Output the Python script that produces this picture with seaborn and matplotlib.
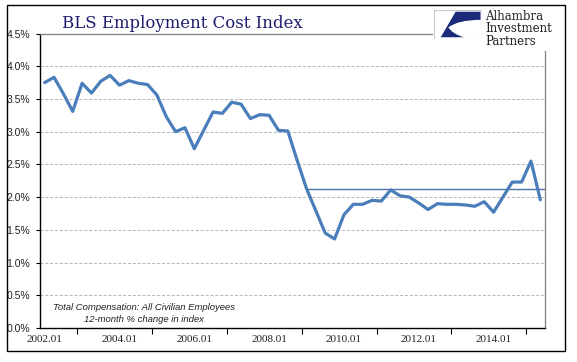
import numpy as np
import pandas as pd
import matplotlib
matplotlib.use("Agg")
import matplotlib.pyplot as plt
from matplotlib.patches import Rectangle, PathPatch
from matplotlib.path import Path
import seaborn as sns

# quarterly 12-month % change, 2002.01 .. 2015.02
eci = [3.75, 3.83, 3.58, 3.31, 3.74, 3.59, 3.77, 3.86, 3.71, 3.78,
       3.74, 3.72, 3.56, 3.23, 3.00, 3.06, 2.74, 3.02, 3.30, 3.28,
       3.45, 3.42, 3.20, 3.26, 3.25, 3.02, 3.01, 2.56, 2.13, 1.79,
       1.45, 1.36, 1.73, 1.89, 1.89, 1.95, 1.94, 2.11, 2.02, 2.00,
       1.91, 1.81, 1.90, 1.89, 1.89, 1.88, 1.86, 1.93, 1.77, 2.00,
       2.23, 2.23, 2.55, 1.96]
years = list(range(2002, 2016))
periods = [f"{y}.0{q}" for y in years for q in range(1, 5)][:len(eci)]
ref_level = 2.13
ref_start = "2009.01"

y_ticks = [0, 0.5, 1.0, 1.5, 2.0, 2.5, 3.0, 3.5, 4.0, 4.5]
x_labels = ["2002.01", "2004.01", "2006.01", "2008.01", "2010.01", "2012.01", "2014.01"]

df = pd.DataFrame({"period": periods, "eci": eci})
df["pos"] = np.arange(len(df))

sns.set_style("white")
plt.rcParams["font.family"] = ["DejaVu Sans"]

fig = plt.figure(figsize=(5.77, 3.62), dpi=100)
ax = fig.add_axes([40 / 577, 1 - 328 / 362, 505 / 577, 294.5 / 362])

# gridlines
for v in y_ticks[1:-1]:
    ax.axhline(v, color="#b4b4b4", lw=0.7, ls=(0, (3, 2)), zorder=1)

sns.lineplot(data=df, x="pos", y="eci", ax=ax, color="#4a7ebb", lw=2.3, zorder=3)

ref_pos = periods.index(ref_start)
ax.plot([ref_pos, len(eci) - 0.5], [ref_level, ref_level], color="#4e72a8", lw=1.0, zorder=2)

ax.set_xlim(-0.5, len(eci) - 0.5)
ax.set_ylim(0, 4.5)
ax.set_xlabel("")
ax.set_ylabel("")

ax.set_yticks(y_ticks)
ax.set_yticklabels([f"{v:.1f}%" for v in y_ticks], fontfamily="Liberation Sans", fontsize=7.5, color="#222222")
ax.tick_params(axis="y", direction="out", length=3, width=0.8, color="black", pad=4, left=True)

ax.set_xticks([periods.index(l) for l in x_labels])
ax.set_xticklabels(x_labels, fontfamily="Liberation Serif", fontsize=8, color="#222222")
ax.set_xticks([periods.index(l) + 3.5 for l in x_labels], minor=True)
ax.tick_params(axis="x", which="major", length=0, pad=5)
ax.tick_params(axis="x", which="minor", direction="out", length=4, width=0.8, color="black", bottom=True)

for s in ["left", "bottom"]:
    ax.spines[s].set_color("black")
    ax.spines[s].set_linewidth(1.0)
ax.spines["top"].set_color("#7f7f7f")
ax.spines["top"].set_linewidth(0.9)
ax.spines["top"].set_bounds(-0.5, 41.4)
ax.spines["right"].set_color("#7f7f7f")
ax.spines["right"].set_linewidth(0.9)
ax.spines["right"].set_bounds(0, 4.24)

# title
fig.text(62 / 577, 1 - 24 / 362, "BLS Employment Cost Index", fontfamily="DejaVu Serif",
         fontsize=11.9, color="#1c1c6c", ha="left", va="center")

# note
fig.text(144 / 577, 1 - 307 / 362, "Total Compensation: All Civilian Employees",
         fontfamily="Liberation Sans", style="italic", fontsize=6.8, color="#222222",
         ha="center", va="center")
fig.text(144 / 577, 1 - 320 / 362, "12-month % change in index",
         fontfamily="Liberation Sans", style="italic", fontsize=6.8, color="#222222",
         ha="center", va="center")

# logo
lax = fig.add_axes([434 / 577, 1 - 39 / 362, 48 / 577, 29 / 362])
lax.set_xlim(0, 1)
lax.set_ylim(0, 1)
lax.axis("off")
lax.add_patch(Rectangle((0.01, 0.01), 0.98, 0.98, facecolor="white", edgecolor="#c8c8c8", lw=0.8))
verts = [(0.45, 0.94), (0.97, 0.94), (0.97, 0.66),
         (0.5, 0.66), (0.3, 0.4),
         (0.38, 0.18), (0.62, 0.06),
         (0.14, 0.06), (0.45, 0.94)]
codes = [Path.MOVETO, Path.LINETO, Path.LINETO,
         Path.CURVE3, Path.CURVE3,
         Path.CURVE3, Path.CURVE3,
         Path.LINETO, Path.CLOSEPOLY]
lax.add_patch(PathPatch(Path(verts, codes), facecolor="#1b2a7a", edgecolor="none"))

fig.text(485 / 577, 1 - 29 / 362, "Alhambra\nInvestment\nPartners", fontfamily="DejaVu Serif",
         fontsize=8.5, linespacing=0.95, color="#222222", ha="left", va="center")

# outer frame
fig.patches.append(Rectangle((7 / 577, 1 - 351 / 362), 558 / 577, 346 / 362,
                             transform=fig.transFigure, fill=False, edgecolor="black", lw=1.0))

fig.savefig("out.png", dpi=100)
